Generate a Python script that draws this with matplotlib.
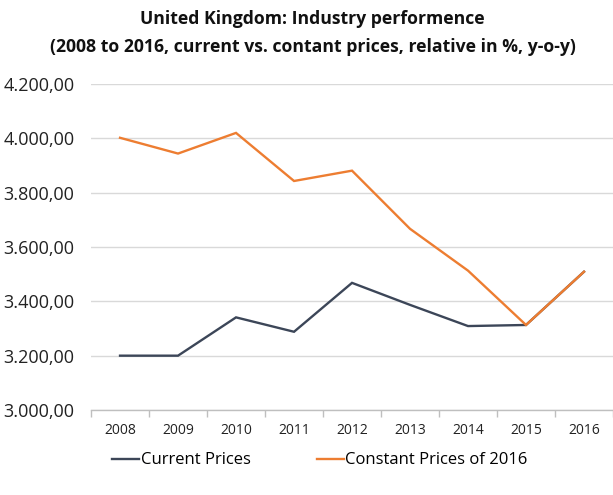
import matplotlib
matplotlib.use("Agg")
import matplotlib.pyplot as plt
import numpy as np
from matplotlib.ticker import FuncFormatter, FixedLocator

years = ["2008", "2009", "2010", "2011", "2012", "2013", "2014", "2015", "2016"]
current_prices = [3200, 3200, 3341, 3288, 3468, 3387, 3309, 3313, 3509]
constant_prices = [4002, 3944, 4020, 3843, 3881, 3667, 3513, 3313, 3509]
y_ticks = [3000, 3200, 3400, 3600, 3800, 4000, 4200]

plt.rcParams['font.family'] = ['Open Sans', 'DejaVu Sans']

fig = plt.figure(figsize=(6.13, 4.95), dpi=100)
ax = fig.add_axes([0.1485, 0.1717, 0.8515, 0.6586])

x = np.arange(len(years))
ax.plot(x, current_prices, color="#3C4658", lw=1.7, label="Current Prices", solid_joinstyle="miter")
ax.plot(x, constant_prices, color="#ED7D31", lw=1.7, label="Constant Prices of 2016", solid_joinstyle="miter")

ax.set_xlim(-0.5, len(years) - 0.5)
ax.set_ylim(3000, 4200)
ax.set_yticks(y_ticks)

def fmt(v, pos):
    s = f"{v:,.2f}"
    return s.replace(",", "X").replace(".", ",").replace("X", ".")
ax.yaxis.set_major_formatter(FuncFormatter(fmt))
ax.grid(axis="y", color="#D9D9D9", lw=1)
ax.set_axisbelow(True)
ax.tick_params(axis="y", length=0, labelsize=13, pad=12, colors="#222222")

ax.set_xticks(x)
ax.set_xticklabels(years)
ax.xaxis.set_minor_locator(FixedLocator(np.arange(-0.5, len(years), 1)))
ax.tick_params(axis="x", which="major", length=0, labelsize=10, pad=9, colors="#222222")
ax.tick_params(axis="x", which="minor", length=5, color="#BFBFBF", width=1)

for s in ["top", "right", "left"]:
    ax.spines[s].set_visible(False)
ax.spines["bottom"].set_color("#BFBFBF")
ax.spines["bottom"].set_linewidth(1)

fig.text(0.51, 0.962, "United Kingdom: Industry performence", ha="center", va="center",
         fontsize=12.7, fontweight="bold", color="#111111")
fig.text(0.51, 0.905, "(2008 to 2016, current vs. contant prices, relative in %, y-o-y)", ha="center",
         va="center", fontsize=12.7, fontweight="bold", color="#111111")

leg = fig.legend(loc="center", bbox_to_anchor=(0.522, 0.07), ncol=2, frameon=False,
                 fontsize=12, handlelength=1.6, handletextpad=0.1, columnspacing=4.0)

fig.savefig("out.png", dpi=100)
